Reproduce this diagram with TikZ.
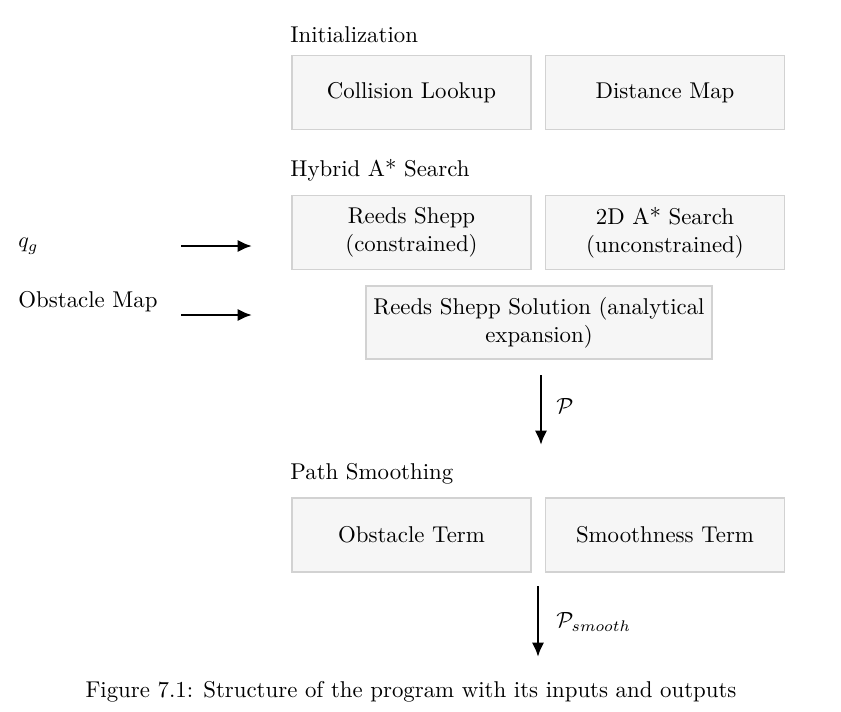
\documentclass[tikz,border=0pt]{standalone}
\usepackage{amsmath}
\usepackage{amssymb}
\usepackage{tikz}
\usetikzlibrary{arrows.meta, positioning, calc}

\begin{document}
\begin{tikzpicture}[
    font=\fontsize{10.4pt}{12.6pt}\selectfont,
    block/.style={draw=gray!35, line width=0.6pt, fill=gray!7, minimum width=3.824cm, minimum height=1.184cm, align=center},
    flow/.style={line width=1.3pt, -{Latex[length=2.3mm, width=2mm]}}
]
    \useasboundingbox (0,0) rectangle (13.456,-11.376);

    % initialization
    \node[anchor=west, inner sep=0] (initlabel) at (4.64,-0.56) {Initialization};
    \node[block] (collision) at (6.584,-1.48) {Collision Lookup};
    \node[block] (distmap) at (10.64,-1.48) {Distance Map};

    % hybrid A* search
    \node[anchor=west, inner sep=0] (searchlabel) at (4.64,-2.72) {Hybrid A* Search};
    \node[block] (reeds) at (6.584,-3.72) {Reeds Shepp\\(constrained)};
    \node[block] (astar) at (10.64,-3.72) {2D A* Search\\(unconstrained)};
    \node[block, minimum width=5.472cm, minimum height=1.168cm] (rssol) at (8.624,-5.16) {Reeds Shepp Solution (analytical\\expansion)};

    % inputs
    \node[anchor=west, inner sep=0] (goal) at (0.288,-3.94) {$q_g$};
    \node[anchor=west, inner sep=0] (obsmap) at (0.288,-4.82) {Obstacle Map};
    \coordinate (goalstart) at (2.896,-3.936);
    \coordinate (goalend) at (4.032,-3.936);
    \coordinate (mapstart) at (2.896,-5.04);
    \coordinate (mapend) at (4.032,-5.04);
    \draw[flow] (goalstart) -- (goalend);
    \draw[flow] (mapstart) -- (mapend);

    % path
    \coordinate (pathstart) at (8.656,-6.0);
    \coordinate (pathend) at (8.656,-7.12);
    \draw[flow] (pathstart) -- (pathend);
    \node[anchor=west, inner sep=0] (pathlabel) at (8.896,-6.5) {$\mathcal{P}$};

    % path smoothing
    \node[anchor=west, inner sep=0] (smoothlabel) at (4.64,-7.58) {Path Smoothing};
    \node[block] (obsterm) at (6.584,-8.56) {Obstacle Term};
    \node[block] (smoothterm) at (10.64,-8.56) {Smoothness Term};

    % output
    \coordinate (outstart) at (8.608,-9.376);
    \coordinate (outend) at (8.608,-10.512);
    \draw[flow] (outstart) -- (outend);
    \node[anchor=west, inner sep=0] (outlabel) at (8.896,-9.95) {$\mathcal{P}_{smooth}$};

    \node (caption) at (6.576,-11.07) {Figure 7.1: Structure of the program with its inputs and outputs};
\end{tikzpicture}
\end{document}
